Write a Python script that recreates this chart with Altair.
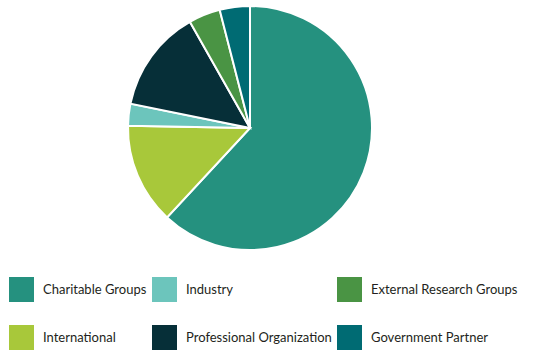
import altair as alt
import pandas as pd

categories = ["Charitable Groups", "International", "Industry",
              "Professional Organization", "External Research Groups", "Government Partner"]
values = [61.9, 13.4, 2.9, 13.6, 4.2, 4.0]
slice_order = [1, 2, 3, 4, 5, 6]
legend_order = ["Charitable Groups", "Industry", "External Research Groups",
                "International", "Professional Organization", "Government Partner"]
legend_colors = ["#25917F", "#6CC5BC", "#4A9444", "#A8C83A", "#062F38", "#006B73"]

df = pd.DataFrame({"category": categories, "value": values, "ord": slice_order})

chart = alt.Chart(df).mark_arc(outerRadius=122, stroke="white", strokeWidth=2).encode(
    x=alt.value(250),
    y=alt.value(128),
    theta=alt.Theta("value:Q", stack=True),
    order=alt.Order("ord:Q"),
    color=alt.Color(
        "category:N",
        scale=alt.Scale(domain=legend_order, range=legend_colors),
        legend=alt.Legend(
            title=None, orient="none", legendX=9, legendY=277, columns=3,
            direction="horizontal",
            symbolType="square", symbolSize=625, symbolStrokeWidth=0, symbolOpacity=1,
            labelFont="Lato", labelFontSize=13, labelColor="#231F20", labelOffset=9,
            columnPadding=5, rowPadding=23, labelLimit=300,
        ),
    ),
).properties(
    width=550, height=357, padding=0, autosize=alt.AutoSizeParams(type="none")
).configure_view(stroke=None)

chart.save("out.html", embed_options={"renderer": "svg", "actions": False})
